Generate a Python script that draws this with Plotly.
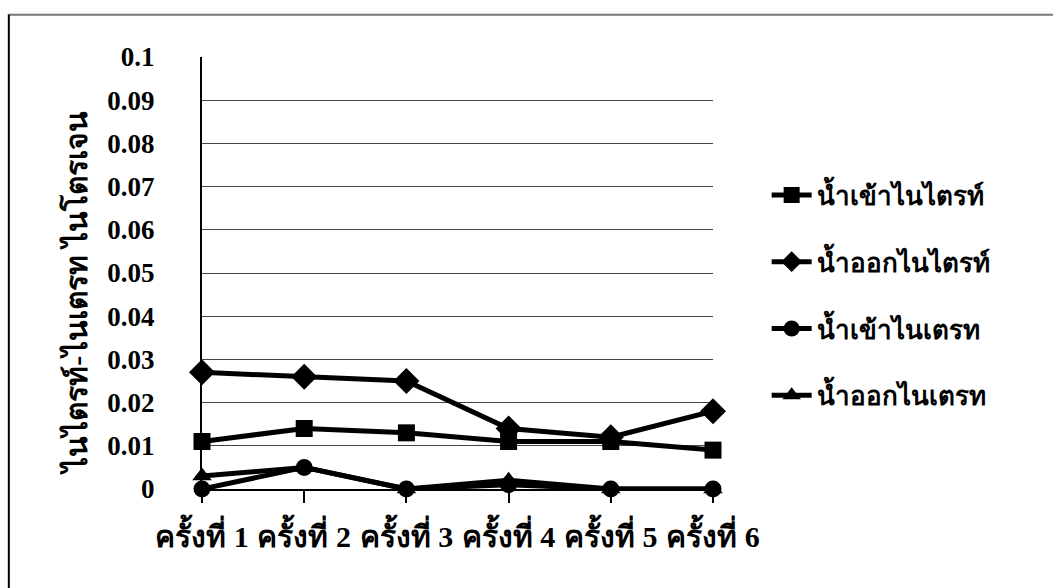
import plotly.graph_objects as go

# Sampling rounds
rounds = ["ครั้งที่ 1", "ครั้งที่ 2", "ครั้งที่ 3", "ครั้งที่ 4", "ครั้งที่ 5", "ครั้งที่ 6"]

# Nitrite / nitrate nitrogen (mg/L)
nitrite_in = [0.011, 0.014, 0.013, 0.011, 0.011, 0.009]
nitrite_out = [0.027, 0.026, 0.025, 0.014, 0.012, 0.018]
nitrate_in = [0.000, 0.005, 0.000, 0.001, 0.000, 0.000]
nitrate_out = [0.003, 0.005, 0.000, 0.002, 0.000, 0.000]

series = [
    ("น้ำเข้าไนไตรท์", nitrite_in, "square", 17),
    ("น้ำออกไนไตรท์", nitrite_out, "diamond", 20),
    ("น้ำเข้าไนเตรท", nitrate_in, "circle", 17),
    ("น้ำออกไนเตรท", nitrate_out, "triangle-up", 17),
]

y_title = "ไนไตรท์-ไนเตรท ไนโตรเจน"

FONT = "Liberation Serif, Times New Roman, serif"

fig = go.Figure()
for i, (name, vals, sym, size) in enumerate(series):
    fig.add_trace(go.Scatter(
        x=list(range(len(rounds))), y=vals, name=name,
        mode="lines+markers", legendgroup=f"g{i}",
        line=dict(color="black", width=5),
        marker=dict(symbol=sym, size=size, color="black"),
        cliponaxis=False,
    ))

fig.update_layout(
    width=1053, height=588,
    margin=dict(l=202, r=340, t=57, b=99),
    paper_bgcolor="white", plot_bgcolor="white",
    font=dict(family=FONT, color="black"),
    showlegend=True,
    legend=dict(
        x=1.105, y=0.735, xanchor="left", yanchor="top",
        font=dict(family=FONT, size=26, color="black", weight="bold"),
        tracegroupgap=30, traceorder="grouped",
        bgcolor="rgba(0,0,0,0)", itemwidth=40,
    ),
    shapes=[
        dict(type="line", xref="paper", yref="paper",
             x0=-0.38, x1=1.7, y0=1.098, y1=1.098,
             line=dict(color="#777", width=2)),
        dict(type="line", xref="paper", yref="paper",
             x0=-0.378, x1=-0.378, y0=1.098, y1=-0.3,
             line=dict(color="black", width=2)),
    ],
    annotations=[
        dict(text=y_title, textangle=-90, xref="paper", yref="paper",
             x=-0.248, y=0.455, xanchor="center", yanchor="middle",
             showarrow=False,
             font=dict(family=FONT, size=30, color="black", weight="bold")),
    ],
)

fig.update_xaxes(
    type="linear", range=[0, 5],
    tickvals=list(range(len(rounds))), ticktext=rounds,
    showgrid=False, zeroline=False,
    showline=True, linecolor="black", linewidth=2,
    ticks="outside", ticklen=12, tickwidth=2, tickcolor="black",
    ticklabelstandoff=8,
    tickfont=dict(family=FONT, size=30, color="black", weight="bold"),
)

fig.update_yaxes(
    range=[0, 0.1], dtick=0.01, tickformat="~g",
    showgrid=True, gridcolor="#444", gridwidth=1,
    zeroline=False, showline=True, linecolor="black", linewidth=2,
    ticks="", ticklabelstandoff=40,
    tickfont=dict(family=FONT, size=27, color="black", weight="bold"),
)

fig.write_html("out.html")
